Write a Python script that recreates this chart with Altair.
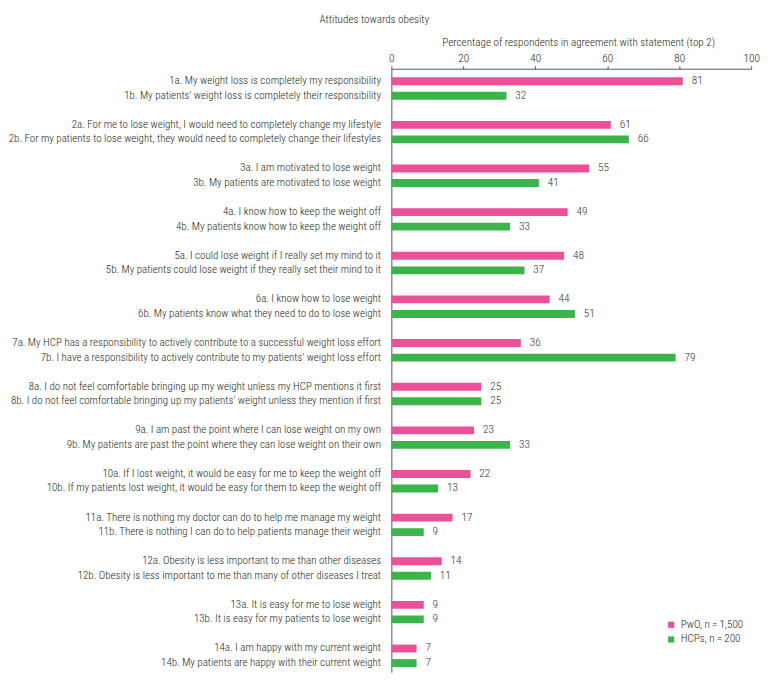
import altair as alt
import pandas as pd

labels_a = [
    "1a. My weight loss is completely my responsibility",
    "2a. For me to lose weight, I would need to completely change my lifestyle",
    "3a. I am motivated to lose weight",
    "4a. I know how to keep the weight off",
    "5a. I could lose weight if I really set my mind to it",
    "6a. I know how to lose weight",
    "7a. My HCP has a responsibility to actively contribute to a successful weight loss effort",
    "8a. I do not feel comfortable bringing up my weight unless my HCP mentions it first",
    "9a. I am past the point where I can lose weight on my own",
    "10a. If I lost weight, it would be easy for me to keep the weight off",
    "11a. There is nothing my doctor can do to help me manage my weight",
    "12a. Obesity is less important to me than other diseases",
    "13a. It is easy for me to lose weight",
    "14a. I am happy with my current weight",
]
labels_b = [
    "1b. My patients\u2019 weight loss is completely their responsibility",
    "2b. For my patients to lose weight, they would need to completely change their lifestyles",
    "3b. My patients are motivated to lose weight",
    "4b. My patients know how to keep the weight off",
    "5b. My patients could lose weight if they really set their mind to it",
    "6b. My patients know what they need to do to lose weight",
    "7b. I have a responsibility to actively contribute to my patients\u2019 weight loss effort",
    "8b. I do not feel comfortable bringing up my patients\u2019 weight unless they mention if first",
    "9b. My patients are past the point where they can lose weight on their own",
    "10b. If my patients lost weight, it would be easy for them to keep the weight off",
    "11b. There is nothing I can do to help patients manage their weight",
    "12b. Obesity is less important to me than many of other diseases I treat",
    "13b. It is easy for my patients to lose weight",
    "14b. My patients are happy with their current weight",
]
pwo = [81, 61, 55, 49, 48, 44, 36, 25, 23, 22, 17, 14, 9, 7]
hcp = [32, 66, 41, 33, 37, 51, 79, 25, 33, 13, 9, 11, 9, 7]
series = ["PwO, n\u2009=\u20091,500", "HCPs, n\u2009=\u2009200"]
colors = ["#EA5198", "#3BB44A"]
x_ticks = [0, 20, 40, 60, 80, 100]

rows = []
domain = []
for i in range(len(pwo)):
    rows.append({"stmt": labels_a[i], "value": pwo[i], "group": series[0]})
    rows.append({"stmt": labels_b[i], "value": hcp[i], "group": series[1]})
    domain += [labels_a[i], labels_b[i]]
    if i < len(pwo) - 1:
        domain.append(f"_sp{i}")
df = pd.DataFrame(rows)

FONT = "Roboto Condensed, DejaVu Sans Condensed, Liberation Sans Narrow, Roboto, sans-serif"
TXT = "#231f20"
W = 300

y_enc = alt.Y(
    "stmt:N",
    sort=None,
    scale=alt.Scale(domain=domain, paddingInner=0, paddingOuter=0.247, align=0.726),
    axis=alt.Axis(
        title=None,
        ticks=False,
        labelPadding=11,
        labelExpr="indexof(datum.label, '_sp') == 0 ? '' : datum.label",
        labelFontSize=11.15,
        labelFont=FONT,
        labelFontWeight=W,
        labelColor=TXT,
        labelLimit=600,
        domainColor="#555555",
    ),
)
x_enc = alt.X(
    "value:Q",
    scale=alt.Scale(domain=[0, 100], nice=False),
    axis=alt.Axis(
        orient="top",
        values=x_ticks,
        grid=False,
        title="Percentage of respondents in agreement with statement (top 2)",
        titleFont=FONT,
        titleFontSize=11.3,
        titleFontWeight=W,
        titleColor=TXT,
        titlePadding=6,
        titleX=190,
        titleAlign="center",
        labelFont=FONT,
        labelFontSize=11.5,
        labelFontWeight=W,
        labelColor=TXT,
        labelPadding=2,
        labelFlush=False,
        tickSize=3,
        tickColor="#555555",
        domainColor="#555555",
    ),
)

bars = alt.Chart(df).mark_bar(size=8).encode(
    x=x_enc,
    y=y_enc,
    color=alt.Color(
        "group:N",
        scale=alt.Scale(domain=series, range=colors),
        legend=alt.Legend(
            title=None,
            orient="none",
            legendX=279,
            legendY=560,
            symbolType="square",
            symbolSize=40,
            symbolStrokeWidth=0,
            labelFont=FONT,
            labelFontSize=11.3,
            labelFontWeight=W,
            labelColor=TXT,
            rowPadding=3,
        ),
    ),
)

text = alt.Chart(df).mark_text(
    align="left", baseline="middle", dx=9, fontSize=11.5, font=FONT,
    fontWeight=W, color="#333333"
).encode(
    x=alt.X("value:Q"),
    y=alt.Y("stmt:N", sort=None),
    text=alt.Text("value:Q"),
)

chart = (
    alt.layer(bars, text)
    .properties(
        width=366,
        height=614,
        padding={"top": 0, "left": 0, "right": 0, "bottom": 0},
        title=alt.TitleParams(
            "Attitudes towards obesity",
            font=FONT,
            fontSize=11.3,
            fontWeight=W,
            color=TXT,
            anchor="start",
            frame="group",
            dx=-73,
            offset=11,
        ),
    )
    .configure_view(stroke=None)
)

chart.save("out.html", embed_options={"renderer": "svg", "actions": False})
